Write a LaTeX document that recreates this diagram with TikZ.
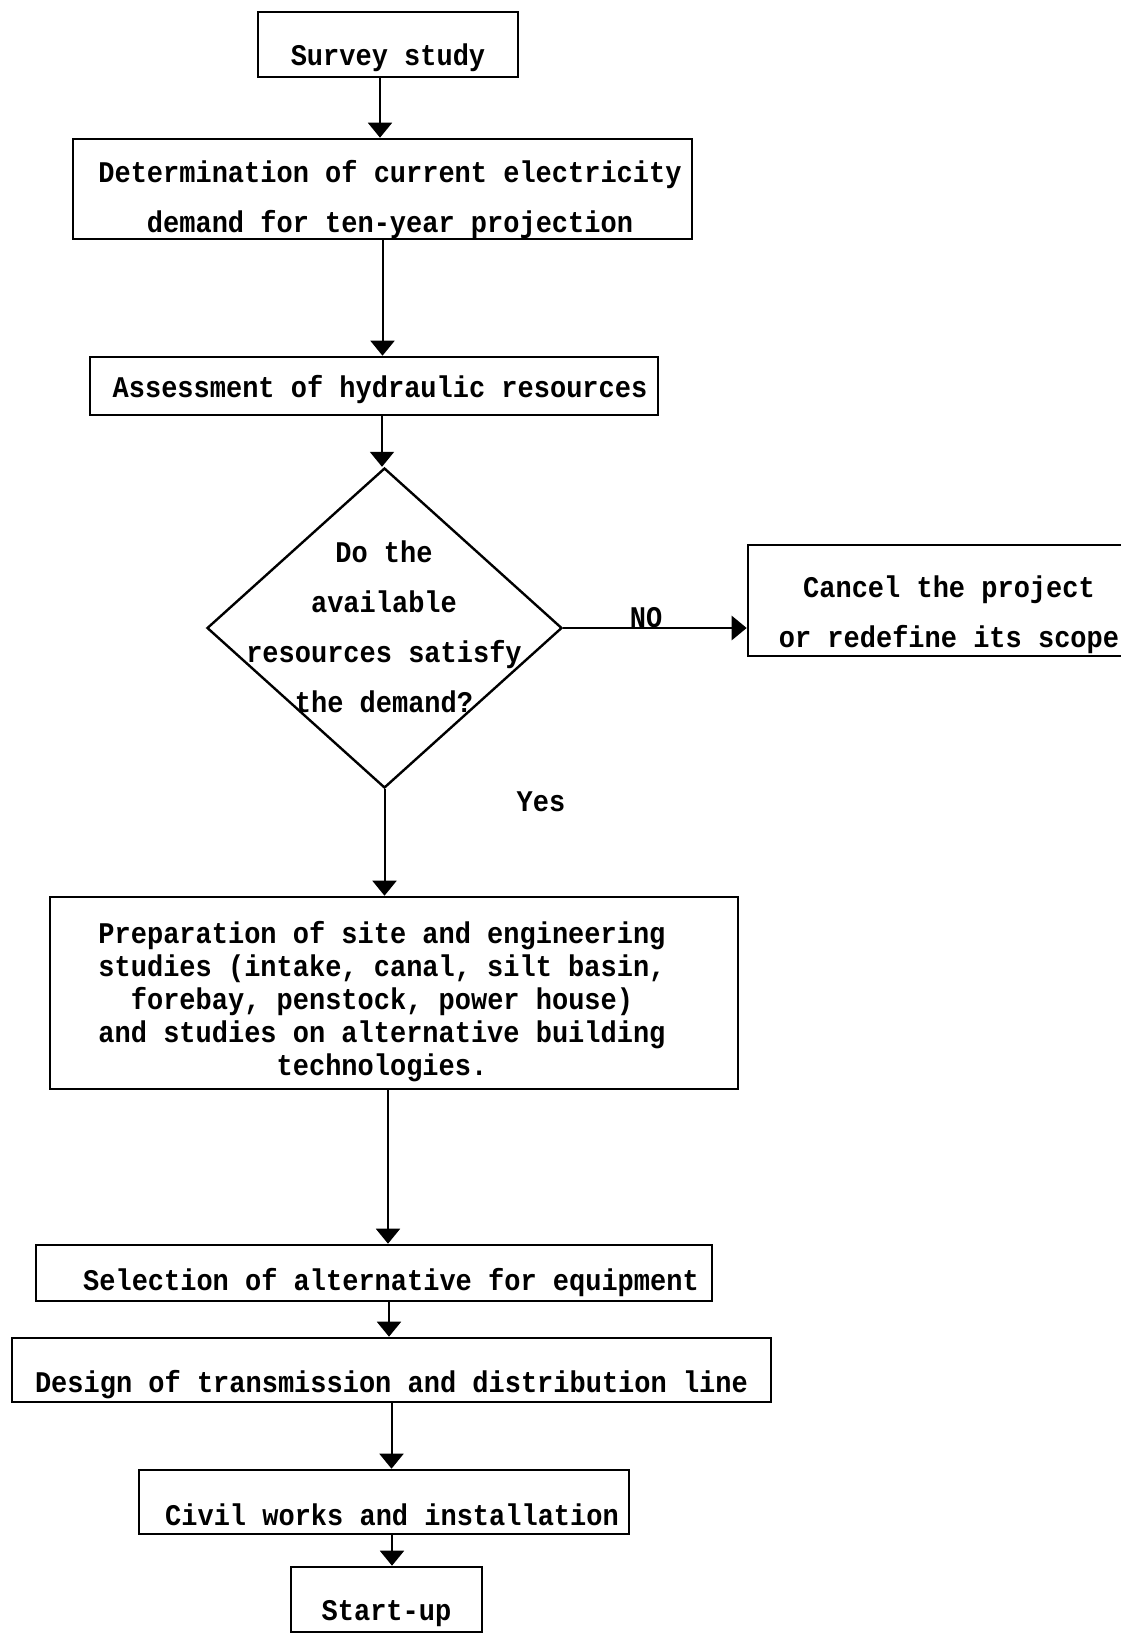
\documentclass[tikz,border=0pt]{standalone}
\usepackage{fontspec}
\newfontfamily\twfont{Liberation Mono}[FakeStretch=0.9]
\usetikzlibrary{arrows.meta,shapes.geometric}
\newcommand{\lines}[1]{\begin{tabular}[t]{@{}c@{}}#1\end{tabular}}
\tikzset{
  tw/.style={font=\twfont\bfseries\fontsize{30}{#1}\selectfont},
  tw/.default=36,
  box/.style={draw, line width=2.6pt, inner sep=0pt, tw},
  arr/.style={line width=2pt, -{Triangle[width=24pt,length=15pt]}},
  lbl/.style={inner sep=0pt, tw},
}
\begin{document}
\begin{tikzpicture}[x=1pt,y=-1pt]
\clip (0,0) rectangle (1121,1633);
\fill[white] (0,0) rectangle (1121,1633);

% boxes
\node[box, minimum width=260pt, minimum height=65pt, text height=41pt, text depth=0pt]
  (s) at (388,44.5) {Survey study};
\node[box, minimum width=619pt, minimum height=100pt, text height=0pt, text depth=14pt, tw=50]
  (det) at (382.5,189) {\hspace*{15pt}\lines{Determination of current electricity\\ demand for ten-year projection}};
\node[box, minimum width=568pt, minimum height=58pt, text height=22pt, text depth=0pt]
  (as) at (374,386) {\hspace*{12pt}Assessment of hydraulic resources};
\node[draw, diamond, line width=2.4pt, minimum width=355pt, minimum height=320pt, inner sep=0pt]
  (dia) at (384.5,628) {};
\node[anchor=base, inner sep=0pt, tw=50]
  (dq) at (384,562) {\lines{Do the\\ available\\ resources satisfy\\ the demand?}};
\node[box, minimum width=402pt, minimum height=111pt, text height=0pt, text depth=7pt, tw=50]
  (can) at (949,600.5) {\lines{Cancel the project\\ or redefine its scope}};
\node[box, minimum width=688pt, minimum height=192pt, text height=0pt, text depth=99pt, tw=33]
  (prep) at (394,993) {\lines{Preparation of site and engineering\\ studies (intake, canal, silt basin,\\ forebay, penstock, power house)\\ and studies on alternative building\\ technologies.}\hspace*{24pt}};
\node[box, minimum width=676pt, minimum height=56pt, text height=34pt, text depth=0pt]
  (sel) at (374,1273) {\hspace*{34pt}Selection of alternative for equipment};
\node[box, minimum width=759pt, minimum height=64pt, text height=44pt, text depth=0pt]
  (des) at (391.5,1370) {Design of transmission and distribution line};
\node[box, minimum width=490pt, minimum height=64pt, text height=46pt, text depth=0pt]
  (civ) at (384,1502) {\hspace*{16pt}Civil works and installation};
\node[box, minimum width=191pt, minimum height=65pt, text height=41pt, text depth=0pt]
  (st) at (386.5,1599.5) {Start-up};

% labels
\node[lbl, anchor=base] (no) at (646,627) {NO};
\node[lbl, anchor=base] (yes) at (541,811) {Yes};

% connectors
\draw[arr] ([xshift=-8pt]s.south) -- ([xshift=-8pt]s.south |- det.north);
\draw[arr] (det.south) -- (det.south |- as.north);
\draw[arr] ([xshift=8pt]as.south) -- ([xshift=8pt]as.south |- dia.north);
\draw[arr] (dia.south) -- (dia.south |- prep.north);
\draw[arr] ([xshift=-6pt]prep.south) -- ([xshift=-6pt]prep.south |- sel.north);
\draw[arr] ([xshift=15pt]sel.south) -- ([xshift=15pt]sel.south |- des.north);
\draw[arr] (des.south) -- (des.south |- civ.north);
\draw[arr] ([xshift=8pt]civ.south) -- ([xshift=8pt]civ.south |- st.north);
\draw[arr, line width=2.8pt] (dia.east) -- (dia.east -| can.west);
\end{tikzpicture}
\end{document}
